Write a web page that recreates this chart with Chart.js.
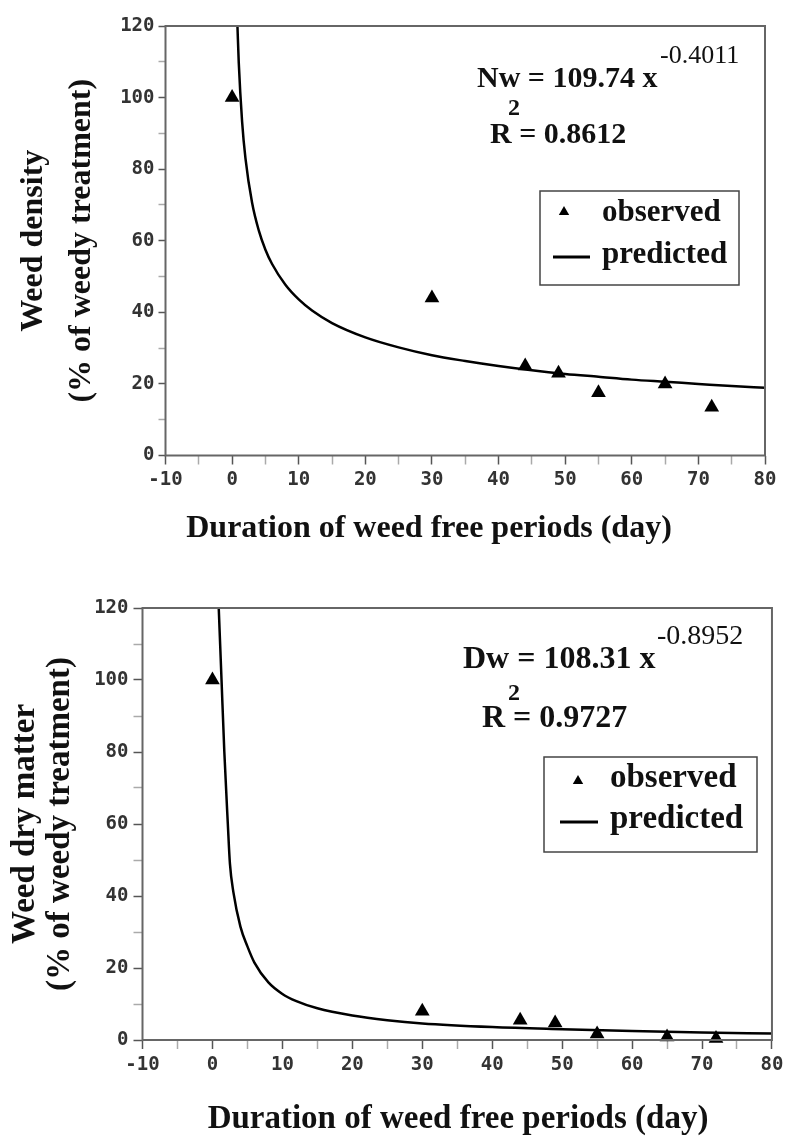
<!DOCTYPE html>
<html><head><meta charset="utf-8">
<script src="https://cdn.jsdelivr.net/npm/chart.js@4.4.0/dist/chart.umd.min.js"></script>
<style>
html,body{margin:0;padding:0;background:#fff;}
body{width:788px;height:1142px;position:relative;overflow:hidden;}
canvas{position:absolute;left:0;}
#c1{top:0;} #c2{top:570px;}
</style></head><body>
<canvas id="c1" width="788" height="570"></canvas>
<canvas id="c2" width="788" height="572"></canvas>
<script>
// ---------- data ----------
const observedDays = [0, 30, 44, 49, 55, 65, 72];
const densityObserved = [100, 44, 25, 23, 17.5, 20, 13.5];
const dryMatterObserved = [100, 8, 5.5, 4.7, 1.7, 0.8, 0.4];

const densityCurveDays = [0.8, 1, 1.5, 2, 3, 4, 5, 6, 8, 10, 12, 15, 20, 25, 30, 35, 40, 45, 50, 55, 60, 65, 70, 75, 80];
const densityPredicted = [120, 109.7, 93.3, 83.1, 70.6, 62.9, 57.5, 53.5, 47.7, 43.6, 40.5, 37.0, 33.0, 30.2, 28.0, 26.4, 25.0, 23.8, 22.8, 22.0, 21.2, 20.6, 20.0, 19.4, 18.9];

const dryCurveDays = [0.9, 1.3, 1.7, 2.2, 2.5, 3, 4, 5, 6, 8, 10, 12, 15, 20, 25, 30, 40, 50, 60, 70, 80];
const dryPredicted = [120, 100, 80, 60, 49, 41, 31.5, 26, 21.5, 16, 12.8, 10.8, 8.8, 6.8, 5.5, 4.6, 3.6, 3.0, 2.5, 2.1, 1.8];

const xTickLabels = ['-10', '0', '10', '20', '30', '40', '50', '60', '70', '80'];
const yTickLabels = ['0', '20', '40', '60', '80', '100', '120'];

const seriesLabels = ['observed', 'predicted'];
const xTitle = 'Duration of weed free periods (day)';
const densityTitle = ['Weed density', '(% of weedy treatment)'];
const dryTitle = ['Weed dry matter', '(% of weedy treatment)'];
const densityEq = ['Nw = 109.74 x', '-0.4011', '2', 'R = 0.8612'];
const dryEq = ['Dw = 108.31 x', '-0.8952', '2', 'R = 0.9727'];

// ---------- helpers ----------
const SERIF = '"Liberation Serif", "Times New Roman", serif';
const MONO = '"DejaVu Sans Mono", monospace';

function pts(xs, ys) { return xs.map((x, i) => ({x: x, y: ys[i]})); }

function drawTri(ctx, x, y, r) {
  ctx.beginPath();
  ctx.moveTo(x, y - r);
  ctx.lineTo(x + r * 0.866, y + r * 0.5);
  ctx.lineTo(x - r * 0.866, y + r * 0.5);
  ctx.closePath();
  ctx.fill();
}

function makeAnnot(L) {
  return {
    id: 'annot',
    afterDraw(chart) {
      const ctx = chart.ctx, a = chart.chartArea;
      ctx.save();
      ctx.strokeStyle = '#666'; ctx.lineWidth = 2;
      ctx.strokeRect(a.left, a.top, a.right - a.left, a.bottom - a.top);
      ctx.fillStyle = '#111'; ctx.textBaseline = 'alphabetic';
      for (const t of L.texts) {
        ctx.font = t.font; ctx.textAlign = t.align || 'left';
        ctx.fillText(t.text, t.x, t.y);
      }
      const g = L.legend;
      ctx.strokeStyle = '#444'; ctx.lineWidth = 1.5;
      ctx.strokeRect(g.x, g.y, g.w, g.h);
      ctx.fillStyle = '#000';
      drawTri(ctx, g.triX, g.triY, g.triR);
      ctx.strokeStyle = '#000'; ctx.lineWidth = 3;
      ctx.beginPath(); ctx.moveTo(g.lineX1, g.lineY); ctx.lineTo(g.lineX2, g.lineY); ctx.stroke();
      ctx.fillStyle = '#111'; ctx.font = g.font; ctx.textAlign = 'left';
      ctx.fillText(chart.data.datasets[0].label, g.textX, g.obsY);
      ctx.fillText(chart.data.datasets[1].label, g.textX, g.predY);
      ctx.restore();
    }
  };
}

function makeChart(id, obsY, curveX, curveY, yTitle, A) {
  const tickFont = {family: MONO, size: 19, weight: 'bold'};
  const tickCol = (labels) => (c) => labels.includes(String(c.tick.value)) ? '#555' : '#aaa';
  return new Chart(document.getElementById(id), {
    type: 'scatter',
    data: {
      datasets: [
        {label: seriesLabels[0], data: pts(observedDays, obsY), pointStyle: 'triangle',
         pointRadius: 8.5, backgroundColor: '#000', borderColor: '#000', borderWidth: 0, clip: false},
        {label: seriesLabels[1], data: pts(curveX, curveY), showLine: true, pointRadius: 0,
         borderColor: '#000', borderWidth: 2.5, cubicInterpolationMode: 'monotone', fill: false}
      ]
    },
    options: {
      responsive: false, animation: false, devicePixelRatio: 1,
      layout: {padding: {left: 0, top: A.top, right: A.right, bottom: 0}},
      plugins: {legend: {display: false}, tooltip: {enabled: false}},
      scales: {
        x: {
          type: 'linear', min: -10, max: 80,
          ticks: {stepSize: 5, autoSkip: false, maxRotation: 0, padding: A.xPad, color: '#333', font: tickFont,
                  callback: (v) => xTickLabels.includes(String(v)) ? String(v) : ''},
          grid: {drawOnChartArea: false, tickLength: 9, tickWidth: 1.5, tickColor: tickCol(xTickLabels)},
          border: {display: false},
          afterFit: (s) => { s.height = A.xH; }
        },
        y: {
          type: 'linear', min: 0, max: 120,
          ticks: {stepSize: 10, autoSkip: false, padding: A.yPad, color: '#333', font: tickFont,
                  callback: (v) => yTickLabels.includes(String(v)) ? String(v) : ''},
          grid: {drawOnChartArea: false, tickLength: A.yTick, tickWidth: 1.5, tickColor: tickCol(yTickLabels)},
          border: {display: false},
          title: {display: true, text: yTitle, color: '#111',
                  font: {family: SERIF, size: A.yTitleSize, weight: 'bold', lineHeight: A.yTitleLH},
                  padding: {top: A.yTitlePad, bottom: 0}},
          afterFit: (s) => { s.width = A.yW; }
        }
      }
    },
    plugins: [makeAnnot(A)]
  });
}

makeChart('c1', densityObserved, densityCurveDays, densityPredicted, densityTitle, {
  top: 26, right: 23, xH: 114.5, yW: 165.5, xPad: 4, yPad: 4, yTick: 7,
  yTitleSize: 32, yTitleLH: 1.5, yTitlePad: 10,
  texts: [
    {text: densityEq[0], x: 477, y: 87, font: 'bold 30px ' + SERIF},
    {text: densityEq[1], x: 660, y: 63, font: '26px ' + SERIF},
    {text: densityEq[2], x: 508, y: 115, font: 'bold 24px ' + SERIF},
    {text: densityEq[3], x: 490, y: 143, font: 'bold 30px ' + SERIF},
    {text: xTitle, x: 429, y: 537, font: 'bold 32px ' + SERIF, align: 'center'}
  ],
  legend: {x: 540, y: 191, w: 199, h: 94, triX: 564, triY: 212, triR: 6,
           lineX1: 553, lineX2: 590, lineY: 257, textX: 602, obsY: 221, predY: 263,
           font: 'bold 31px ' + SERIF}
});

makeChart('c2', dryMatterObserved, dryCurveDays, dryPredicted, dryTitle, {
  top: 38, right: 16, xH: 102, yW: 142.5, xPad: 4.6, yPad: 5, yTick: 9,
  yTitleSize: 33, yTitleLH: 1.06, yTitlePad: 7.5,
  texts: [
    {text: dryEq[0], x: 463, y: 98, font: 'bold 32px ' + SERIF},
    {text: dryEq[1], x: 657, y: 74, font: '28px ' + SERIF},
    {text: dryEq[2], x: 508, y: 130, font: 'bold 24px ' + SERIF},
    {text: dryEq[3], x: 482, y: 157, font: 'bold 32px ' + SERIF},
    {text: xTitle, x: 458, y: 558, font: 'bold 33px ' + SERIF, align: 'center'}
  ],
  legend: {x: 544, y: 187, w: 213, h: 95, triX: 578, triY: 211, triR: 6,
           lineX1: 560, lineX2: 598, lineY: 252, textX: 610, obsY: 217, predY: 258,
           font: 'bold 33px ' + SERIF}
});
</script>
</body></html>
